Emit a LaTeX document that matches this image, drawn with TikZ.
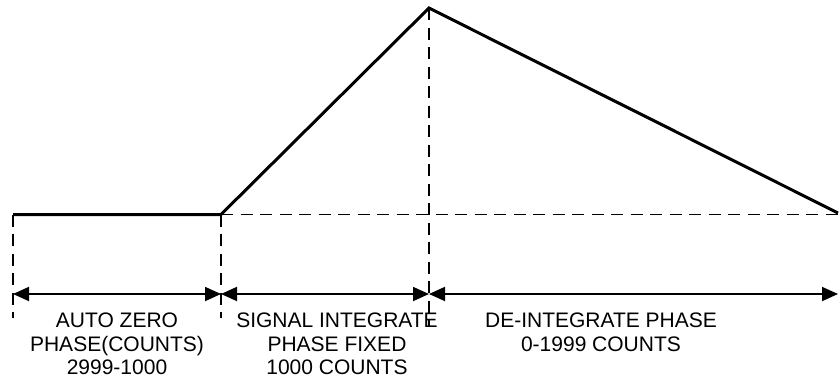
\documentclass[tikz,border=0pt]{standalone}
\usepackage{fontspec}
\setmainfont{Liberation Sans}
\usetikzlibrary{arrows.meta}
\tikzset{
  wave/.style={line width=3pt, line join=miter, line cap=butt},
  guide/.style={line width=1.8pt, dash pattern=on 12pt off 7.5pt},
  span/.style={line width=1.8pt, {Triangle[length=16pt,width=14pt]}-{Triangle[length=16pt,width=14pt]}},
  lbl/.style={font=\fontsize{21}{23.5}\selectfont, align=center, anchor=north, inner sep=0pt},
}
\begin{document}
\begin{tikzpicture}[x=1pt,y=-1pt]
\useasboundingbox (0,0) rectangle (839,381);
% waveform points
\coordinate (s) at (13,214.5);
\coordinate (r) at (221,214.5);
\coordinate (p) at (429,8);
\coordinate (e) at (838,213);
\coordinate (he) at (838,214.5);
% guide ends
\coordinate (g1) at (13,318);
\coordinate (g2) at (221,318);
\coordinate (g3) at (429,327);
% arrow ends
\coordinate (a0) at (13,294);
\coordinate (a1) at (221,294);
\coordinate (a2) at (429,294);
\coordinate (a3) at (838,294);
% dashed guides
\draw[guide] (r) -- (he);
\draw[guide] (s) -- (g1);
\draw[guide] (r) -- (g2);
\draw[guide] (p) -- (g3);
% waveform
\draw[wave] (s) -- (r) -- (p) -- (e);
% spans
\draw[span] (a0) -- (a1);
\draw[span] (a1) -- (a2);
\draw[span] (a2) -- (a3);
% labels
\node[lbl] (t1) at (117,313) {AUTO ZERO\\PHASE(COUNTS)\\2999-1000};
\node[lbl] (t2) at (337,313) {SIGNAL INTEGRATE\\PHASE FIXED\\1000 COUNTS};
\node[lbl] (t3) at (601,313) {DE-INTEGRATE PHASE\\0-1999 COUNTS};
\end{tikzpicture}
\end{document}
